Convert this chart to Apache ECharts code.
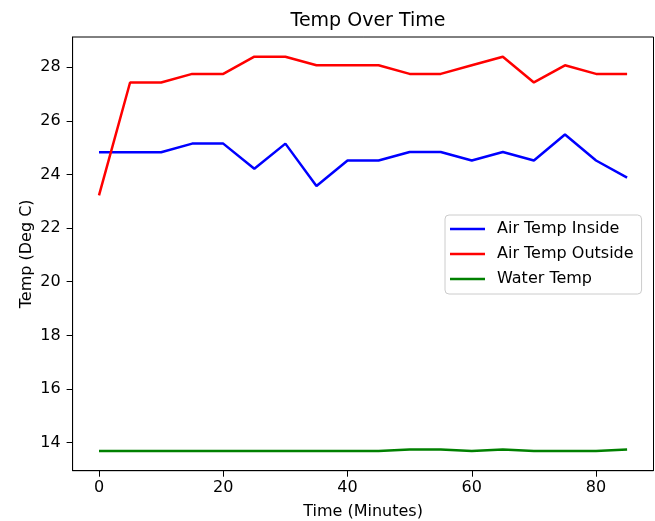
<!DOCTYPE html>
<html>
<head>
<meta charset="utf-8">
<script src="https://cdn.jsdelivr.net/npm/echarts@6/dist/echarts.min.js"></script>
<style>
html,body{margin:0;padding:0;background:#fff;}
#c{width:655px;height:521px;}
</style>
</head>
<body>
<div id="c"></div>
<script>
var times = [0, 5, 10, 15, 20, 25, 30, 35, 40, 45, 50, 55, 60, 65, 70, 75, 80, 85];
var airInside = [24.83, 24.83, 24.83, 25.15, 25.15, 24.21, 25.15, 23.57, 24.52, 24.52, 24.84, 24.84, 24.52, 24.84, 24.52, 25.49, 24.52, 23.88];
var airOutside = [23.22, 27.43, 27.43, 27.75, 27.75, 28.39, 28.39, 28.07, 28.07, 28.07, 27.75, 27.75, 28.07, 28.39, 27.43, 28.07, 27.75, 27.75];
var waterTemp = [13.69, 13.69, 13.69, 13.69, 13.69, 13.69, 13.69, 13.69, 13.69, 13.69, 13.75, 13.75, 13.69, 13.75, 13.69, 13.69, 13.69, 13.75];
var xTicks = [0, 20, 40, 60, 80];
var yTicks = [14, 16, 18, 20, 22, 24, 26, 28];
var seriesNames = ['Air Temp Inside', 'Air Temp Outside', 'Water Temp'];
var seriesColors = ['#0000ff', '#ff0000', '#008000'];
var allSeries = [airInside, airOutside, waterTemp];

var FONT = 'DejaVu Sans';
var chart = echarts.init(document.getElementById('c'), null, {renderer: 'canvas'});

function pairs(vals) {
  return times.map(function (t, i) { return [t, vals[i]]; });
}

var option = {
  animation: false,
  backgroundColor: '#ffffff',
  title: {
    text: 'Temp Over Time',
    left: 363,
    top: 7,
    textAlign: 'center',
    textStyle: {fontFamily: FONT, fontSize: 19, fontWeight: 'normal', color: '#000'}
  },
  grid: {
    left: 72.6, right: 1.5, top: 37, bottom: 50.3,
    outerBoundsMode: 'none',
    containLabel: false,
    show: true, borderColor: '#000', borderWidth: 1, backgroundColor: 'transparent'
  },
  legend: {
    orient: 'vertical',
    left: 445, top: 215,
    data: seriesNames,
    icon: 'rect',
    itemWidth: 35, itemHeight: 2.5,
    itemGap: 9,
    padding: [6, 8, 7, 5],
    borderColor: '#cccccc', borderWidth: 1, borderRadius: 4,
    backgroundColor: 'rgba(255,255,255,0.8)',
    textStyle: {fontFamily: FONT, fontSize: 16, color: '#000', padding: [0, 0, 0, 7]}
  },
  xAxis: {
    type: 'value',
    min: -4.25, max: 89.25,
    name: 'Time (Minutes)',
    nameLocation: 'middle',
    nameGap: 33,
    nameMoveOverlap: false,
    nameTextStyle: {fontFamily: FONT, fontSize: 16, color: '#000'},
    axisLine: {show: true, onZero: false, lineStyle: {color: '#000', width: 1}},
    axisTick: {show: true, length: 6, lineStyle: {color: '#000', width: 1}, customValues: xTicks},
    axisLabel: {fontFamily: FONT, fontSize: 16, color: '#000', margin: 9, customValues: xTicks},
    splitLine: {show: false}
  },
  yAxis: {
    type: 'value',
    min: 12.955, max: 29.125,
    name: 'Temp (Deg C)',
    nameLocation: 'middle',
    nameRotate: 90,
    nameGap: 38,
    nameMoveOverlap: false,
    nameTextStyle: {fontFamily: FONT, fontSize: 16, color: '#000'},
    axisLine: {show: true, onZero: false, lineStyle: {color: '#000', width: 1}},
    axisTick: {show: true, length: 6, lineStyle: {color: '#000', width: 1}, customValues: yTicks},
    axisLabel: {fontFamily: FONT, fontSize: 16, color: '#000', margin: 12, customValues: yTicks},
    splitLine: {show: false}
  },
  series: allSeries.map(function (vals, i) {
    return {
      name: seriesNames[i],
      type: 'line',
      data: pairs(vals),
      showSymbol: false,
      symbol: 'none',
      color: seriesColors[i],
      lineStyle: {color: seriesColors[i], width: 2.5},
      z: 2
    };
  })
};
chart.setOption(option);
</script>
</body>
</html>
